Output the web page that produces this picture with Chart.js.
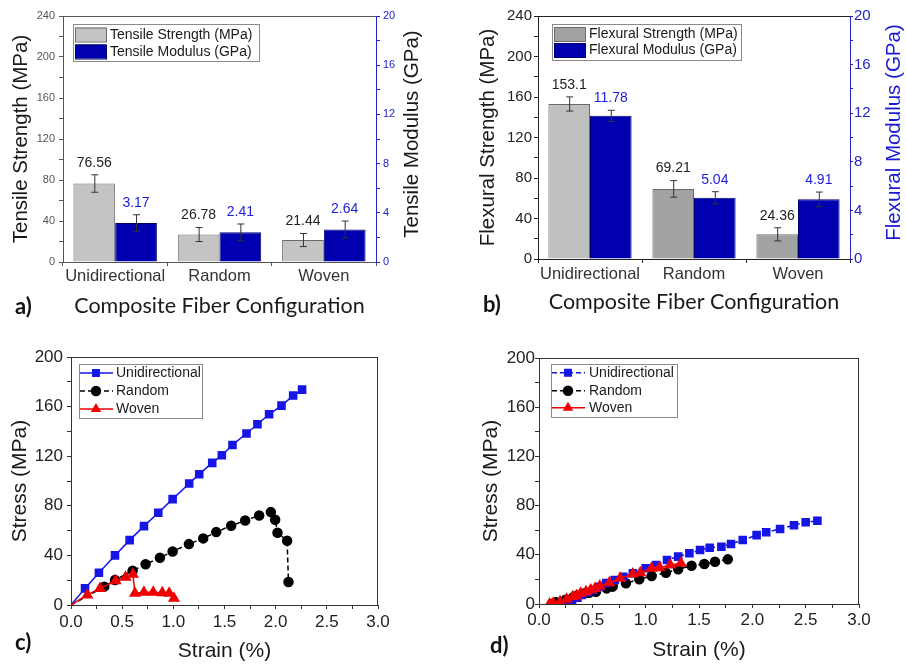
<!DOCTYPE html>
<html>
<head>
<meta charset="utf-8">
<script src="https://cdn.jsdelivr.net/npm/chart.js@4.4.1/dist/chart.umd.min.js"></script>
<style>
  body { margin: 0; background: #fff; width: 906px; height: 664px; position: relative; overflow: hidden; }
  canvas { position: absolute; }
  .tag { position: absolute; font: bold 22px Lato, "Open Sans", sans-serif; color: #111; line-height: 24px; }
</style>
</head>
<body>
<canvas id="chartA" width="453" height="330" style="left:0;top:0"></canvas>
<canvas id="chartB" width="453" height="330" style="left:453px;top:0"></canvas>
<canvas id="chartC" width="453" height="334" style="left:0;top:330px"></canvas>
<canvas id="chartD" width="453" height="334" style="left:453px;top:330px"></canvas>
<div class="tag" style="left:15px;top:294px">a)</div>
<div class="tag" style="left:483px;top:292px">b)</div>
<div class="tag" style="left:15px;top:630px">c)</div>
<div class="tag" style="left:490px;top:633px">d)</div>
<script>
// ---- data (a, b) ----
const configs = ["Unidirectional", "Random", "Woven"];
const tensileStrength = [76.56, 26.78, 21.44];
const tensileStrengthErr = [8.5, 6.8, 6.4];
const tensileModulus = [3.17, 2.41, 2.64];
const tensileModulusErr = [0.67, 0.68, 0.69];
const flexuralStrength = [153.1, 69.21, 24.36];
const flexuralStrengthErr = [7, 8.2, 6.5];
const flexuralModulus = [11.78, 5.04, 4.91];
const flexuralModulusErr = [0.46, 0.5, 0.6];

// ---- data (c) tensile stress-strain ----
const cUniStrain = [0, 0.137, 0.273, 0.43, 0.573, 0.713, 0.853, 0.993, 1.155, 1.253, 1.38, 1.474, 1.578, 1.715, 1.822, 1.936, 2.057, 2.171, 2.258];
const cUniStress = [0, 13.4, 26.0, 40.0, 52.3, 63.6, 74.4, 85.4, 98.0, 105.5, 114.6, 120.8, 129.1, 138.3, 145.8, 153.8, 160.8, 168.9, 173.7];
const cRanStrain = [0, 0.325, 0.43, 0.602, 0.729, 0.869, 0.993, 1.152, 1.292, 1.419, 1.565, 1.702, 1.839, 1.953, 1.995, 2.018, 2.112, 2.125];
const cRanStress = [0, 14.8, 20.1, 27.7, 32.8, 38.1, 43.2, 49.1, 53.7, 58.8, 63.9, 68.2, 72.2, 74.9, 68.7, 58.3, 51.8, 18.5];
const cWovStrain = [0, 0.159, 0.283, 0.436, 0.534, 0.605, 0.625, 0.713, 0.804, 0.892, 0.96, 1.006];
const cWovStress = [0, 8.1, 13.4, 19.6, 22.3, 24.7, 9.4, 10.2, 10.2, 9.9, 9.4, 5.4];

// ---- data (d) flexural stress-strain ----
const dUniStrain = [0.28, 0.31, 0.36, 0.40, 0.46, 0.51, 0.57, 0.63, 0.71, 0.79, 0.88, 1.0, 1.10, 1.20, 1.305, 1.41, 1.51, 1.60, 1.71, 1.80, 1.91, 2.04, 2.13, 2.26, 2.39, 2.50, 2.61];
const dUniStress = [1.5, 3.3, 5.2, 7.3, 9.5, 11.4, 14, 17, 19.5, 22.2, 25, 29, 31.7, 35.8, 38.5, 41.2, 43.9, 45.8, 46.6, 48.8, 52, 56, 58.3, 61, 64, 66.4, 67.7];
const dRanStrain = [0.12, 0.16, 0.25, 0.32, 0.36, 0.42, 0.47, 0.534, 0.634, 0.69, 0.815, 0.94, 1.056, 1.19, 1.305, 1.43, 1.55, 1.65, 1.77];
const dRanStress = [0, 1.5, 3.5, 5.5, 7, 8.5, 9.2, 10, 12.7, 14.1, 16.8, 20.1, 22.8, 25.4, 28.2, 31.1, 32.5, 34.4, 36.3];
const dWovStrain = [0.10, 0.134, 0.197, 0.26, 0.316, 0.353, 0.39, 0.44, 0.485, 0.525, 0.57, 0.66, 0.76, 0.88, 0.95, 1.056, 1.13, 1.23, 1.33];
const dWovStress = [0, 0.6, 1.9, 3.8, 5.9, 6.8, 8.7, 10, 11.4, 12.7, 14.6, 17.3, 20.9, 24.4, 25.4, 29, 29.5, 31.7, 33.1];

const SANS = '"Liberation Sans", Arial, sans-serif';
const TITLE_FONT = 'Lato, "Open Sans", sans-serif';
Chart.defaults.font.family = SANS;
Chart.defaults.color = "#222";

const BLUE_BAR = "#0000b0";
const BLUE_AXIS = "#2323c8";

function points(xs, ys) {
	return xs.map((x, i) => ({ x: x, y: ys[i] }));
}

// error bars + value labels above them
const errorBars = {
	id: "errorBars",
	afterDatasetsDraw(chart) {
		const ctx = chart.ctx;
		chart.data.datasets.forEach((ds, i) => {
			if (!ds.errors) return;
			const meta = chart.getDatasetMeta(i);
			const scale = chart.scales[ds.yAxisID];
			meta.data.forEach((bar, j) => {
				const top = scale.getPixelForValue(ds.data[j] + ds.errors[j]);
				const bot = scale.getPixelForValue(ds.data[j] - ds.errors[j]);
				ctx.save();
				ctx.strokeStyle = "#333";
				ctx.lineWidth = 1;
				ctx.beginPath();
				ctx.moveTo(bar.x + 0.5, top);
				ctx.lineTo(bar.x + 0.5, bot);
				ctx.moveTo(bar.x - 3, top);
				ctx.lineTo(bar.x + 4, top);
				ctx.moveTo(bar.x - 3, bot);
				ctx.lineTo(bar.x + 4, bot);
				ctx.stroke();
				ctx.fillStyle = ds.valueColor;
				ctx.font = "14px " + SANS;
				ctx.textAlign = "center";
				ctx.textBaseline = "middle";
				ctx.fillText(String(ds.data[j]), bar.x, top - 12);
				ctx.restore();
			});
		});
	},
};

// top/right frame lines of the plot box, plus a bottom-to-top right axis title
const frame = {
	id: "frame",
	afterDraw(chart, args, opts) {
		const { left, right, top, bottom } = chart.chartArea;
		const ctx = chart.ctx;
		ctx.save();
		ctx.lineWidth = 1;
		ctx.strokeStyle = opts.color || "#333";
		ctx.beginPath();
		ctx.moveTo(left, top + 0.5);
		ctx.lineTo(right, top + 0.5);
		if (opts.right) {
			ctx.moveTo(right - 0.5, top);
			ctx.lineTo(right - 0.5, bottom);
		}
		ctx.stroke();
		if (opts.rightTitle) {
			ctx.translate(chart.width - opts.rightTitleOffset, (top + bottom) / 2 - 5);
			ctx.rotate(-Math.PI / 2);
			ctx.font = "20.5px " + SANS;
			ctx.fillStyle = opts.rightTitleColor;
			ctx.textAlign = "center";
			ctx.textBaseline = "middle";
			ctx.fillText(opts.rightTitle, 0, 0);
		}
		ctx.restore();
	},
};

// legend box inside the plot area
const boxLegend = {
	id: "boxLegend",
	afterDraw(chart, args, o) {
		if (!o.w) return;
		const ctx = chart.ctx;
		const x0 = chart.chartArea.left + o.dx;
		const y0 = chart.chartArea.top + o.dy;
		ctx.save();
		ctx.fillStyle = "#fff";
		ctx.fillRect(x0, y0, o.w, o.h);
		ctx.strokeStyle = "#8a8a8a";
		ctx.lineWidth = 1;
		ctx.strokeRect(x0 + 0.5, y0 + 0.5, o.w, o.h);
		ctx.font = "14px " + SANS;
		ctx.textBaseline = "middle";
		ctx.textAlign = "left";
		chart.data.datasets.forEach((ds, i) => {
			const cy = y0 + o.rows[i];
			if (o.kind === "swatch") {
				const bg = Array.isArray(ds.backgroundColor) ? ds.backgroundColor[ds.backgroundColor.length - 1] : ds.backgroundColor;
				ctx.fillStyle = bg;
				ctx.fillRect(x0 + 2, cy - 7, 31, 14);
				ctx.strokeStyle = ds.borderColor;
				ctx.strokeRect(x0 + 2.5, cy - 6.5, 31, 14);
			} else {
				ctx.strokeStyle = ds.borderColor;
				ctx.lineWidth = 1.5;
				ctx.setLineDash(ds.borderDash || []);
				ctx.beginPath();
				ctx.moveTo(x0 + 1, cy);
				ctx.lineTo(x0 + 34, cy);
				ctx.stroke();
				ctx.setLineDash([]);
				ctx.fillStyle = ds.pointBackgroundColor;
				ctx.strokeStyle = ds.pointBackgroundColor;
				Chart.helpers.drawPoint(ctx, { pointStyle: ds.pointStyle, radius: 4.5, borderWidth: 1, rotation: 0 }, x0 + 17, cy);
			}
			ctx.fillStyle = "#1a1a1a";
			ctx.fillText(ds.label, x0 + o.textX, cy + 0.5);
		});
		ctx.restore();
	},
};

Chart.register(errorBars, frame, boxLegend);

function fixW(w) { return (s) => { s.width = w; }; }
function fixH(h) { return (s) => { s.height = h; }; }

function barChart(id, p) {
	new Chart(document.getElementById(id), {
		type: "bar",
		data: {
			labels: configs,
			datasets: [
				{
					label: p.label1,
					data: p.strength,
					errors: p.strengthErr,
					yAxisID: "y",
					backgroundColor: p.grayColors,
					borderColor: "#6a6a6a",
					borderWidth: 1,
					valueColor: "#222",
				},
				{
					label: p.label2,
					data: p.modulus,
					errors: p.modulusErr,
					yAxisID: "y1",
					backgroundColor: BLUE_BAR,
					borderColor: "#00006a",
					borderWidth: 1,
					valueColor: "#1c1ce0",
				},
			],
		},
		options: {
			responsive: false,
			animation: false,
			devicePixelRatio: 1,
			categoryPercentage: 0.8,
			barPercentage: 1.0,
			layout: { padding: { top: 16, left: 0, right: 0, bottom: 0 } },
			plugins: {
				legend: { display: false },
				tooltip: { enabled: false },
				frame: { color: p.frameColor, right: false, rightTitle: p.title2, rightTitleColor: p.title2Color, rightTitleOffset: p.y1TitleOff },
				boxLegend: p.legend,
			},
			scales: {
				x: {
					afterFit: fixH(p.xH),
					grid: { drawOnChartArea: false, tickLength: 4, color: p.frameColor },
					border: { color: p.frameColor },
					ticks: { font: { size: 16.5 }, color: "#333", padding: p.xPad, maxRotation: 0 },
					title: { display: true, text: "Composite Fiber Configuration", font: { family: TITLE_FONT, size: 21.5 }, color: "#1a1a1a", padding: { top: 0, bottom: p.xTitlePad } },
				},
				y: {
					position: "left",
					min: 0, max: 240,
					afterFit: fixW(p.yW),
					grid: { drawOnChartArea: false, tickLength: 4, color: p.frameColor },
					border: { color: p.frameColor },
					ticks: { stepSize: 20, autoSkip: false, padding: p.yPad, color: p.yTickColor, font: { size: p.tickSize },
						callback: (v) => (v % 40 === 0 ? v : "") },
					title: { display: true, text: p.title1, font: { size: 20.5 }, color: "#1a1a1a", padding: { top: p.yTitlePad, bottom: 0 } },
				},
				y1: {
					position: "right",
					min: 0, max: 20,
					afterFit: fixW(p.y1W),
					grid: { drawOnChartArea: false, tickLength: p.y1Tick, color: BLUE_AXIS },
					border: { color: BLUE_AXIS },
					ticks: { stepSize: 2, autoSkip: false, padding: p.y1Pad, color: BLUE_AXIS, font: { size: p.tickSize },
						callback: (v) => (v % 4 === 0 ? v : "") },
					title: { display: false },
				},
			},
		},
	});
}

barChart("chartA", {
	label1: "Tensile Strength (MPa)", label2: "Tensile Modulus (GPa)",
	title1: "Tensile Strength (MPa)", title2: "Tensile Modulus (GPa)", title2Color: "#1a1a1a",
	strength: tensileStrength, strengthErr: tensileStrengthErr,
	modulus: tensileModulus, modulusErr: tensileModulusErr,
	grayColors: ["#c4c4c4", "#c4c4c4", "#c4c4c4"],
	frameColor: "#555", yTickColor: "#555", tickSize: 11,
	yW: 63, y1W: 77, xH: 68, xPad: 1, yPad: 4, y1Pad: 3, y1Tick: 4,
	xTitlePad: 11, yTitlePad: 9, y1TitleOff: 41,
	legend: { kind: "swatch", dx: 10, dy: 8, w: 186, h: 37, rows: [10.5, 27.5], textX: 37 },
});

barChart("chartB", {
	label1: "Flexural Strength (MPa)", label2: "Flexural Modulus (GPa)",
	title1: "Flexural Strength (MPa)", title2: "Flexural Modulus (GPa)", title2Color: "#1a1ad8",
	strength: flexuralStrength, strengthErr: flexuralStrengthErr,
	modulus: flexuralModulus, modulusErr: flexuralModulusErr,
	grayColors: ["#c0c0c0", "#a2a2a2", "#a2a2a2"],
	frameColor: "#222", yTickColor: "#222", tickSize: 15,
	yW: 85, y1W: 56, xH: 71, xPad: 2, yPad: 2, y1Pad: 1, y1Tick: 3,
	xTitlePad: 15, yTitlePad: 23, y1TitleOff: 12,
	legend: { kind: "swatch", dx: 14, dy: 8, w: 189, h: 36, rows: [10, 26], textX: 37 },
});

function curveChart(id, p) {
	// order: woven drawn on top, then unidirectional, random underneath
	const series = [
		{ label: "Unidirectional", xs: p.uniX, ys: p.uniY, color: "#1515e6", style: "rect", r: 5, dash: p.uniDash, order: 1 },
		{ label: "Random", xs: p.ranX, ys: p.ranY, color: "#000", style: "circle", r: 4.5, dash: p.ranDash, order: 2 },
		{ label: "Woven", xs: p.wovX, ys: p.wovY, color: "#f00000", style: "triangle", r: 5.5, dash: [], order: 0 },
	];
	new Chart(document.getElementById(id), {
		type: "scatter",
		data: {
			datasets: series.map((s) => ({
				label: s.label,
				data: points(s.xs, s.ys),
				order: s.order,
				showLine: true,
				borderColor: s.color,
				borderWidth: 1.5,
				borderDash: s.dash,
				pointStyle: s.style,
				pointBackgroundColor: s.color,
				pointBorderColor: s.color,
				pointRadius: (c) => (c.raw && c.raw.x === 0 && c.raw.y === 0 ? 0 : s.r),
			})),
		},
		options: {
			responsive: false,
			animation: false,
			devicePixelRatio: 1,
			layout: { padding: { top: p.top, left: 0, right: p.right, bottom: 0 } },
			plugins: {
				legend: { display: false },
				tooltip: { enabled: false },
				frame: { color: "#333", right: true },
				boxLegend: p.legend,
			},
			scales: {
				x: {
					type: "linear",
					min: 0, max: 3,
					afterFit: fixH(p.xH),
					grid: { drawOnChartArea: false, tickLength: 4, color: "#333" },
					border: { color: "#333" },
					ticks: { stepSize: 0.25, autoSkip: false, maxRotation: 0, minRotation: 0, padding: p.xPad, font: { size: 17 }, color: "#222",
						callback: (v) => (Math.abs(v * 2 - Math.round(v * 2)) < 1e-6 ? v.toFixed(1) : "") },
					title: { display: true, text: "Strain (%)", font: { size: 21 }, color: "#1a1a1a", padding: { top: 0, bottom: p.xTitlePad } },
				},
				y: {
					min: 0, max: 200,
					afterFit: fixW(p.yW),
					grid: { drawOnChartArea: false, tickLength: 4, color: "#333" },
					border: { color: "#333" },
					ticks: { stepSize: 20, autoSkip: false, padding: p.yPad, font: { size: 17 }, color: "#222",
						callback: (v) => (v % 40 === 0 ? v : "") },
					title: { display: true, text: "Stress (MPa)", font: { size: 21 }, color: "#1a1a1a", padding: { top: p.yTitlePad, bottom: 0 } },
				},
			},
		},
	});
}

curveChart("chartC", {
	uniX: cUniStrain, uniY: cUniStress, uniDash: [],
	ranX: cRanStrain, ranY: cRanStress, ranDash: [5, 3],
	wovX: cWovStrain, wovY: cWovStress,
	top: 27, right: 75, yW: 71, xH: 59, xPad: 3, yPad: 4, xTitlePad: 0, yTitlePad: 8,
	legend: { kind: "line", dx: 8, dy: 7, w: 123, h: 54, rows: [9, 27, 45], textX: 37 },
});

curveChart("chartD", {
	uniX: dUniStrain, uniY: dUniStress, uniDash: [5, 3],
	ranX: dRanStrain, ranY: dRanStress, ranDash: [5, 3],
	wovX: dWovStrain, wovY: dWovStress,
	top: 28, right: 47, yW: 86, xH: 60, xPad: 2, yPad: 0, xTitlePad: 1, yTitlePad: 26,
	legend: { kind: "line", dx: 12, dy: 6, w: 126, h: 53, rows: [8.7, 26.7, 43.7], textX: 38 },
});
</script>
</body>
</html>
